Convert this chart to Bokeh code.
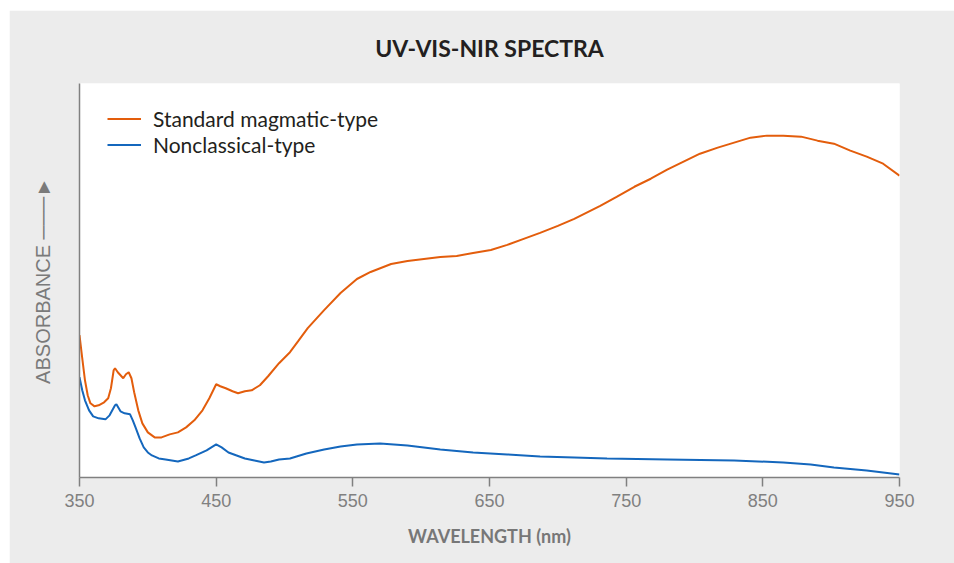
from bokeh.plotting import figure
from bokeh.models import Range1d, FixedTicker, Legend, LegendItem
from bokeh.embed import file_html
from bokeh.resources import INLINE

# ---- data (arbitrary absorbance units) ----
wl_standard = [350, 352, 354, 356, 358, 361, 364, 368, 371, 373, 375, 376, 378, 380, 382, 384, 386,
               388, 390, 393, 396, 400, 405, 410, 416, 422, 428, 434, 440, 445, 450, 453, 457, 462,
               466, 471, 476, 482, 488, 496, 504, 510, 517, 529, 541, 553, 563, 578, 590, 602, 614,
               626, 638, 651, 663, 675, 687, 700, 712, 731, 743, 756, 768, 780, 792, 804, 817, 829,
               841, 853, 865, 878, 890, 902, 914, 926, 938, 950]
abs_standard = [1.42, 1.19, 0.97, 0.82, 0.74, 0.71, 0.72, 0.75, 0.79, 0.89, 1.07, 1.09, 1.05, 1.02,
                0.99, 1.03, 1.05, 0.99, 0.85, 0.67, 0.54, 0.45, 0.40, 0.40, 0.43, 0.45, 0.50, 0.57,
                0.67, 0.79, 0.93, 0.91, 0.89, 0.86, 0.84, 0.86, 0.87, 0.92, 1.01, 1.14, 1.25, 1.36,
                1.49, 1.67, 1.84, 1.98, 2.05, 2.13, 2.16, 2.18, 2.20, 2.21, 2.24, 2.27, 2.32, 2.38,
                2.44, 2.51, 2.58, 2.71, 2.80, 2.90, 2.98, 3.07, 3.15, 3.23, 3.29, 3.34, 3.39, 3.41,
                3.41, 3.40, 3.36, 3.33, 3.26, 3.20, 3.13, 3.01]

wl_nonclassical = [350, 352, 354, 357, 360, 364, 369, 372, 374, 376, 377, 380, 383, 387, 389, 391,
                   394, 397, 400, 403, 408, 413, 422, 430, 435, 443, 450, 454, 459, 465, 471, 478,
                   485, 490, 496, 504, 516, 529, 541, 553, 570, 590, 614, 638, 663, 687, 712, 736,
                   780, 829, 865, 885, 902, 926, 950]
abs_nonclassical = [1.00, 0.87, 0.77, 0.67, 0.61, 0.59, 0.58, 0.62, 0.67, 0.72, 0.73, 0.66, 0.64,
                    0.63, 0.57, 0.50, 0.39, 0.30, 0.25, 0.22, 0.19, 0.18, 0.16, 0.19, 0.22, 0.27,
                    0.33, 0.30, 0.25, 0.22, 0.19, 0.17, 0.15, 0.16, 0.18, 0.19, 0.24, 0.28, 0.31,
                    0.33, 0.34, 0.32, 0.28, 0.25, 0.23, 0.21, 0.20, 0.19, 0.18, 0.17, 0.15, 0.13,
                    0.10, 0.07, 0.03]

x_ticks = [350, 450, 550, 650, 750, 850, 950]
series_names = ["Standard magmatic-type", "Nonclassical-type"]
series_colors = ["#e35d0c", "#1467bd"]

BG = "#ececec"
GREY = "#808080"

p = figure(width=945, height=553, output_backend="svg", toolbar_location=None,
           x_range=Range1d(350, 950), y_range=Range1d(0, 3.93),
           min_border_left=70, min_border_right=55, min_border_top=73, min_border_bottom=86,
           background_fill_color="white", border_fill_color=BG, outline_line_color=None)
p.margin = (10, 0, 0, 9)

p.title.text = "UV-VIS-NIR SPECTRA"
p.title.align = "center"
p.title.text_font = "Lato"
p.title.text_font_style = "bold"
p.title.text_font_size = "23px"
p.title.text_color = "#231f20"
p.title.standoff = 43

p.grid.visible = False

xa = p.xaxis[0]
xa.ticker = FixedTicker(ticks=x_ticks)
xa.axis_line_color = GREY
xa.axis_line_width = 1.5
xa.major_tick_line_color = GREY
xa.major_tick_line_width = 1.5
xa.major_tick_out = 9
xa.major_tick_in = 0
xa.minor_tick_line_color = None
xa.major_label_text_font = "Liberation Sans"
xa.major_label_text_font_size = "18px"
xa.major_label_text_color = GREY
xa.major_label_standoff = 7
xa.axis_label = "WAVELENGTH (nm)"
xa.axis_label_text_font = "Lato"
xa.axis_label_text_font_style = "bold"
xa.axis_label_text_font_size = "18px"
xa.axis_label_text_color = "#777777"
xa.axis_label_standoff = 15

ya = p.yaxis[0]
ya.ticker = FixedTicker(ticks=[])
ya.axis_line_color = GREY
ya.axis_line_width = 1.5
ya.major_tick_line_color = None
ya.minor_tick_line_color = None
ya.major_tick_out = 0
ya.major_label_standoff = 0
ya.axis_label = "ABSORBANCE \u2500\u2500\u2500\u25ba"
ya.axis_label_text_font = "Liberation Sans"
ya.axis_label_text_font_style = "normal"
ya.axis_label_text_font_size = "20px"
ya.axis_label_text_color = "#7a7a7a"
ya.axis_label_standoff = 26

r1 = p.line(wl_standard, abs_standard, line_color=series_colors[0], line_width=2)
r2 = p.line(wl_nonclassical, abs_nonclassical, line_color=series_colors[1], line_width=2)

legend = Legend(items=[LegendItem(label=series_names[0], renderers=[r1]),
                       LegendItem(label=series_names[1], renderers=[r2])],
                location=(28, 320), margin=0, padding=0,
                background_fill_alpha=0, border_line_color=None,
                label_text_font="Lato", label_text_font_size="21px", label_text_color="#231f20",
                glyph_width=34, glyph_height=25, label_height=25, spacing=1, label_standoff=12)
p.add_layout(legend)

open("out.html", "w").write(file_html(p, INLINE))
